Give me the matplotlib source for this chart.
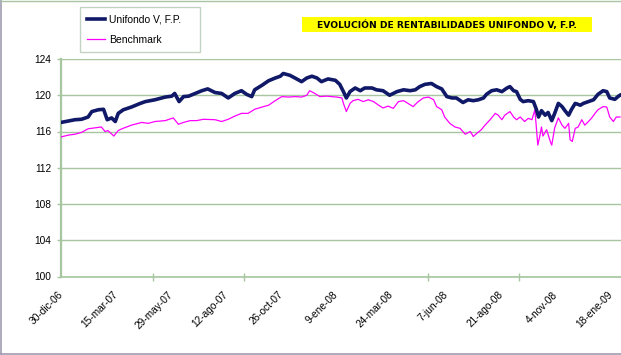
import matplotlib
matplotlib.use('Agg')
import matplotlib.pyplot as plt
import matplotlib.dates as mdates
from matplotlib.patches import Rectangle
from matplotlib.lines import Line2D
import pandas as pd

plt.rcParams['font.family'] = ['Liberation Sans', 'DejaVu Sans']

# Datos (dias desde el 30-dic-06)
fecha_inicio = '2006-12-30'

dias_unifondo = [0, 19, 28, 37, 42, 51, 58, 63, 69, 74, 78, 85, 96, 108, 115, 128, 142,
                 151, 155, 161, 167, 174, 183, 192, 200, 210, 219, 228, 237, 246, 253, 260,
                 264, 274, 283, 292, 299, 303, 312, 319, 328, 335, 342, 349, 355, 364, 374,
                 380, 385, 389, 394, 401, 408, 414, 424, 430, 439, 448, 458, 467, 476, 483,
                 489, 496, 505, 512, 519, 526, 533, 539, 548, 555, 562, 569, 576, 580, 587,
                 594, 601, 608, 612, 617, 621, 626, 630, 637, 644, 648, 651, 655, 660, 664,
                 669, 673, 678, 683, 687, 692, 696, 701, 708, 712, 719, 726, 732, 739, 744,
                 748, 755, 760, 762]
valores_unifondo = [117.0, 117.3, 117.35, 117.6, 118.2, 118.4, 118.45, 117.3, 117.5, 117.1,
                    118.0, 118.4, 118.7, 119.1, 119.3, 119.5, 119.8, 119.9, 120.2, 119.3,
                    119.85, 119.9, 120.2, 120.5, 120.7, 120.3, 120.2, 119.7, 120.2, 120.5,
                    120.1, 119.85, 120.6, 121.1, 121.6, 121.9, 122.1, 122.4, 122.2, 121.9,
                    121.5, 121.9, 122.1, 121.9, 121.5, 121.8, 121.65, 121.2, 120.4, 119.7,
                    120.4, 120.8, 120.5, 120.8, 120.8, 120.6, 120.5, 120.0, 120.4, 120.6,
                    120.5, 120.6, 120.95, 121.2, 121.3, 120.95, 120.7, 119.85, 119.7, 119.7,
                    119.2, 119.5, 119.4, 119.5, 119.7, 120.1, 120.5, 120.6, 120.4, 120.8,
                    120.95, 120.5, 120.4, 119.55, 119.3, 119.4, 119.3, 118.45, 117.6, 118.3,
                    117.8, 118.1, 117.2, 118.0, 119.1, 118.75, 118.3, 117.8, 118.45, 119.1,
                    118.9, 119.1, 119.3, 119.5, 120.1, 120.5, 120.4, 119.7, 119.55, 119.9,
                    120.0]

dias_benchmark = [0, 10, 19, 28, 37, 46, 55, 60, 64, 72, 78, 83, 96, 110, 119, 128, 142,
                  153, 160, 167, 176, 185, 194, 210, 219, 228, 237, 246, 255, 264, 274, 283,
                  292, 301, 310, 319, 328, 335, 339, 346, 353, 362, 369, 376, 383, 385, 389,
                  394, 398, 405, 412, 419, 426, 433, 439, 446, 453, 460, 467, 473, 480, 487,
                  494, 501, 508, 512, 519, 523, 530, 537, 544, 551, 558, 562, 567, 573, 578,
                  585, 592, 596, 601, 605, 612, 617, 621, 626, 632, 637, 642, 646, 650, 653,
                  655, 657, 662, 667, 669, 673, 678, 683, 687, 692, 694, 697, 701, 705, 710,
                  714, 719, 723, 728, 732, 739, 744, 748, 753, 757, 762]
valores_benchmark = [115.4, 115.6, 115.7, 115.9, 116.3, 116.4, 116.5, 116.0, 116.1, 115.5,
                     116.1, 116.3, 116.7, 117.0, 116.9, 117.1, 117.2, 117.5, 116.8, 117.0,
                     117.2, 117.2, 117.35, 117.3, 117.1, 117.35, 117.7, 118.0, 118.0, 118.45,
                     118.7, 118.9, 119.4, 119.85, 119.8, 119.85, 119.8, 120.0, 120.5, 120.2,
                     119.85, 119.9, 119.85, 119.8, 119.7, 119.1, 118.2, 119.1, 119.4, 119.55,
                     119.3, 119.5, 119.3, 118.9, 118.6, 118.8, 118.55, 119.3, 119.4, 119.1,
                     118.75, 119.3, 119.7, 119.8, 119.5, 118.75, 118.4, 117.6, 116.9, 116.5,
                     116.35, 115.7, 116.0, 115.45, 115.8, 116.2, 116.7, 117.3, 118.0, 117.8,
                     117.3, 117.8, 118.2, 117.6, 117.3, 117.6, 117.1, 117.45, 117.3, 118.4,
                     114.5, 115.6, 116.5, 115.5, 116.2, 114.9, 114.5, 116.4, 117.5, 116.7,
                     116.35, 116.9, 115.1, 114.9, 116.35, 116.5, 117.3, 116.7, 117.1, 117.45,
                     118.0, 118.4, 118.75, 118.7, 117.6, 117.1, 117.6, 117.6]

etiquetas_fechas = ['30-dic-06', '15-mar-07', '29-may-07', '12-ago-07', '26-oct-07', '9-ene-08',
                    '24-mar-08', '7-jun-08', '21-ago-08', '4-nov-08', '18-ene-09']
valores_eje_y = [100, 104, 108, 112, 116, 120, 124]
titulo = 'EVOLUCIÓN DE RENTABILIDADES UNIFONDO V, F.P.'

verde = '#a6c6a0'
gris_borde = '#a09cb0'

inicio = pd.Timestamp(fecha_inicio)
fechas_u = inicio + pd.to_timedelta(dias_unifondo, unit='D')
fechas_b = inicio + pd.to_timedelta(dias_benchmark, unit='D')

fig = plt.figure(figsize=(6.21, 3.55), dpi=100)
ax = fig.add_axes([61 / 621, 1 - 276.5 / 355, 560 / 621, 217.5 / 355])

linea_b, = ax.plot(fechas_b, valores_benchmark, color='#ff00ff', lw=0.9, label='Benchmark', zorder=3)
linea_u, = ax.plot(fechas_u, valores_unifondo, color='#101868', lw=2.6, label='Unifondo V, F.P.', zorder=4)

# ejes
ax.set_ylim(100, 124)
ax.set_yticks(valores_eje_y)
ax.set_xlim(mdates.date2num(inicio), mdates.date2num(inicio) + 763.4)

pos_etiquetas = mdates.date2num(pd.date_range(inicio, periods=len(etiquetas_fechas), freq='75D').to_pydatetime())
ax.set_xticks(pos_etiquetas)
ax.set_xticklabels(etiquetas_fechas, rotation=45, ha='right', va='center', rotation_mode='anchor')
marcas = mdates.date2num(pd.date_range(inicio, periods=7, freq='125D').to_pydatetime())
ax.set_xticks(marcas, minor=True)

ax.tick_params(axis='x', which='major', length=0, pad=12, labelsize=7.3)
ax.tick_params(axis='x', which='minor', direction='inout', length=6, width=1, color=verde)
ax.tick_params(axis='y', length=3, width=1, color=verde, pad=4, labelsize=7.3)

ax.yaxis.grid(True, color=verde, lw=1)
ax.set_axisbelow(True)
for lado in ['top', 'right']:
    ax.spines[lado].set_visible(False)
ax.spines['left'].set_color(verde)
ax.spines['left'].set_linewidth(1.6)
ax.spines['bottom'].set_color(verde)
ax.spines['bottom'].set_linewidth(1.2)

# leyenda
fig.legend(handles=[linea_u, linea_b], loc='upper left',
           bbox_to_anchor=(80 / 621, 1 - 50 / 355, 120 / 621, 43 / 355), mode='expand',
           borderaxespad=0, fontsize=7.5, frameon=True, fancybox=False, edgecolor='#b4c8b4',
           handlelength=1.7, handletextpad=0.35, labelspacing=1.0, borderpad=0.7)

# titulo con caja amarilla
fig.add_artist(Rectangle((302 / 621, 1 - 32 / 355), 290 / 621, 15 / 355,
                         transform=fig.transFigure, facecolor='#ffff00', edgecolor='none'))
fig.text(447 / 621, 1 - 24.8 / 355, titulo, ha='center', va='center', fontsize=6.6,
         fontweight='bold', family='DejaVu Sans')

# borde exterior
fig.add_artist(Line2D([0.002, 0.002], [0.002, 0.999], transform=fig.transFigure, color=gris_borde, lw=1.2))
fig.add_artist(Line2D([0.002, 1.0], [0.003, 0.003], transform=fig.transFigure, color=gris_borde, lw=1.2))
fig.add_artist(Line2D([0.002, 1.0], [0.998, 0.998], transform=fig.transFigure, color=verde, lw=1.0))

fig.savefig('out.png', dpi=100)
